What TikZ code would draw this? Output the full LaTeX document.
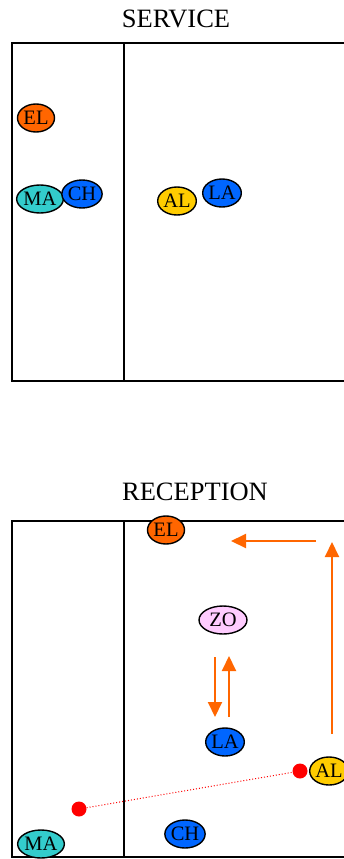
\documentclass[tikz,border=0pt]{standalone}
\usepackage{fontspec}
\setmainfont{Liberation Serif}
\usetikzlibrary{shapes.geometric, positioning, arrows.meta}

\definecolor{elorange}{HTML}{FF6600}
\definecolor{mateal}{HTML}{33CCCC}
\definecolor{chblue}{HTML}{0066FF}
\definecolor{algold}{HTML}{FFCC00}
\definecolor{zopink}{HTML}{FFCCFF}

\begin{document}
\begin{tikzpicture}[x=1pt,y=-1pt,
        player/.style={ellipse, draw, line width=1.4pt, minimum width=37pt, minimum height=28pt,
            inner sep=0pt, font=\fontsize{20.5}{20.5}\selectfont},
        title/.style={font=\fontsize{26.5}{26.5}\selectfont},
        court/.style={line width=1.5pt},
        move/.style={color=elorange, line width=2pt, -{Triangle[length=15pt,width=14pt]}},
        ball/.style={circle, fill=red, minimum size=15pt, inner sep=0pt}]
        \clip (0,0) rectangle (344,859);
        % service
        \node[title] (serv) at (176,19) {SERVICE};
        \draw[court] (12,43) rectangle (370,381);
        \draw[court] (124,43) -- (124,381);
        \node[player, fill=elorange] (el_s) at (36,118) {EL};
        \node[player, fill=mateal, minimum width=45pt] (ma_s) at (40,199) {MA};
        \node[player, fill=chblue] (ch_s) at (82,194) {CH};
        \node[player, fill=algold] (al_s) at (177,201) {AL};
        \node[player, fill=chblue] (la_s) at (222,193) {LA};
        % reception
        \node[title] (rec) at (195,492) {RECEPTION};
        \draw[court] (12,521) rectangle (370,857);
        \draw[court] (124,521) -- (124,857);
        \node[player, fill=elorange] (el_r) at (166,530) {EL};
        \node[player, fill=zopink, minimum width=48pt] (zo_r) at (223,620) {ZO};
        \node[player, fill=chblue] (la_r) at (225,742) {LA};
        \node[player, fill=algold] (al_r) at (329,771) {AL};
        \node[player, fill=chblue] (ch_r) at (185,834) {CH};
        \node[player, fill=mateal, minimum width=45pt] (ma_r) at (41,844) {MA};
        \node[ball] (b_1) at (79,809) {};
        \node[ball] (b_2) at (300,771) {};
        \draw[red, dotted, line width=1pt] (b_1) -- (b_2);
        \coordinate (h_1) at (316,541);
        \coordinate (h_2) at (231,541);
        \coordinate (v_1) at (332,734);
        \coordinate (v_2) at (332,542);
        \coordinate (d_1) at (215,657);
        \coordinate (d_2) at (215,717);
        \coordinate (u_1) at (229,717);
        \coordinate (u_2) at (229,656);
        \draw[move] (h_1) -- (h_2);
        \draw[move] (v_1) -- (v_2);
        \draw[move] (d_1) -- (d_2);
        \draw[move] (u_1) -- (u_2);
    \end{tikzpicture}
\end{document}
